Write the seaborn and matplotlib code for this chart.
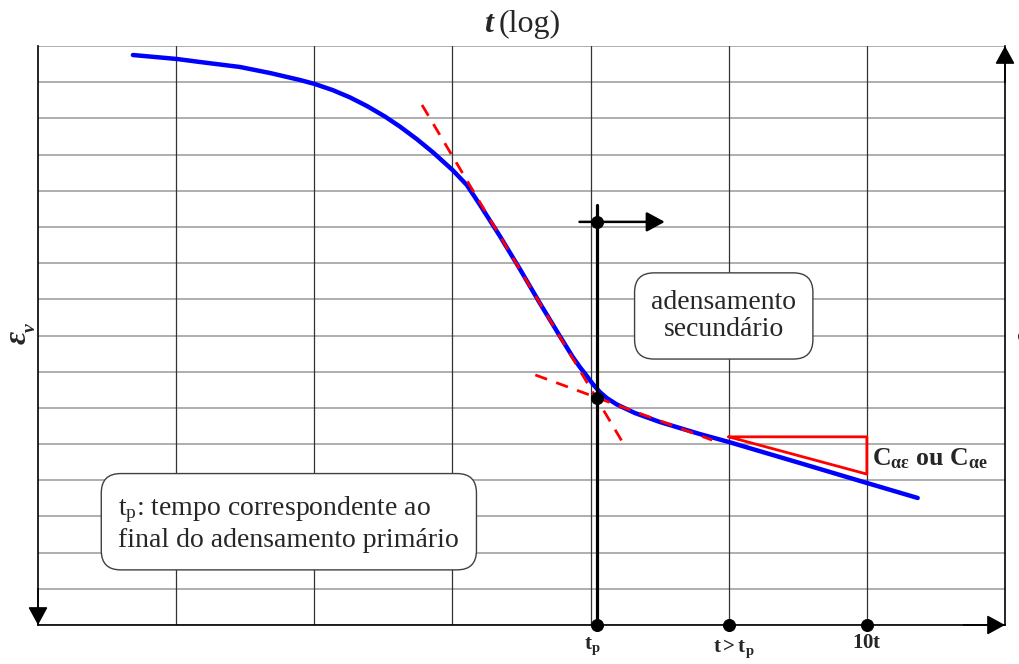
import numpy as np
import pandas as pd
import matplotlib
matplotlib.use("Agg")
import matplotlib.pyplot as plt
import seaborn as sns

# ---- data (x: log t in grid decades, y: epsilon_v in grid rows, downward) ----
curve_logt = [0.687, 1.006, 1.172, 1.462, 1.679, 1.896, 2.004, 2.135, 2.258,
              2.381, 2.511, 2.619, 2.742, 2.858, 3.003, 3.104, 3.198, 3.343,
              3.488, 3.632, 3.777, 3.871, 3.922, 3.973, 4.016, 4.067, 4.117,
              4.190, 4.320, 4.501, 4.790, 5.000, 5.514, 6.000, 6.368]
curve_eps = [0.249, 0.359, 0.442, 0.580, 0.746, 0.939, 1.050, 1.221, 1.420,
             1.658, 1.948, 2.224, 2.573, 2.935, 3.435, 3.841, 4.382, 5.250,
             6.162, 7.101, 8.013, 8.594, 8.870, 9.119, 9.340, 9.561, 9.727,
             9.906, 10.141, 10.390, 10.722, 10.942, 11.523, 12.075, 12.490]

steep_x = [2.78, 4.23]
steep_y = [1.63, 10.94]
flat_x = [3.60, 4.88]
flat_y = [9.09, 10.89]

tri_x = [5.0, 6.0, 6.0, 5.0]
tri_y = [10.80, 10.80, 11.83, 10.80]

tp = 4.045
tp_arrow_y = 4.86
tp_curve_y = 9.73
tick_pos = [tp, 5.0, 6.0]
tick_labels = [r"$\mathbf{t_p}$", r"$\mathbf{t > t_p}$", r"$\mathbf{10t}$"]

# ---- style ----
sns.set_style("white")
plt.rcParams['font.family'] = ['Liberation Serif', 'DejaVu Serif']
plt.rcParams['mathtext.fontset'] = 'custom'
plt.rcParams['mathtext.rm'] = 'Liberation Serif'
plt.rcParams['mathtext.it'] = 'Liberation Serif:italic'
plt.rcParams['mathtext.bf'] = 'Liberation Serif:bold'

W, H = 1019, 664
fig = plt.figure(figsize=(W / 100, H / 100), dpi=100)
ax = fig.add_axes([38 / W, 39 / H, 967 / W, 579 / H])
ax.set_xlim(0, 7)
ax.set_ylim(16, 0)
ax.set_xticks([])
ax.set_yticks([])

for yv in range(0, 17):
    ax.axhline(yv, color='#a8a8a8', lw=1.3, zorder=0)
for xv in range(1, 7):
    ax.axvline(xv, color='#333333', lw=0.9, zorder=0)

ax.spines['top'].set_visible(False)
for s in ['left', 'right', 'bottom']:
    ax.spines[s].set_color('black')
    ax.spines[s].set_linewidth(1.2)

# main curve
sns.lineplot(x=curve_logt, y=curve_eps, ax=ax, color='#0000ff', lw=3.2,
             sort=False, estimator=None, zorder=4)
ax.lines[-1].set_solid_capstyle('round')
ax.lines[-1].set_solid_joinstyle('round')

# tangents (drawn above the curve)
sns.lineplot(x=steep_x, y=steep_y, ax=ax, color='red', lw=2,
             sort=False, estimator=None, zorder=5)
ax.lines[-1].set_dashes((4.5, 3.5))
sns.lineplot(x=flat_x, y=flat_y, ax=ax, color='red', lw=2,
             sort=False, estimator=None, zorder=5)
ax.lines[-1].set_dashes((4.5, 3.5))

# red triangle
sns.lineplot(x=tri_x, y=tri_y, ax=ax, color='red', lw=2, sort=False,
             estimator=None, zorder=5)

# tp vertical line and arrow
ax.plot([tp, tp], [4.39, 16], color='black', lw=2.3, zorder=6, clip_on=False)
ax.annotate('', xy=(4.537, tp_arrow_y), xytext=(3.92, tp_arrow_y),
            arrowprops=dict(arrowstyle='-|>,head_length=0.55,head_width=0.3',
                            mutation_scale=20, color='black', lw=1.8,
                            shrinkA=0, shrinkB=0), zorder=6)

# dots
sns.scatterplot(x=[tp, tp] + tick_pos, y=[tp_arrow_y, tp_curve_y, 16, 16, 16],
                ax=ax, color='black', s=75, zorder=7, clip_on=False,
                edgecolor='black', legend=False)

# axis arrows
arrow_kw = dict(arrowstyle='-|>,head_length=0.55,head_width=0.3',
                mutation_scale=20, color='black', lw=1.2, shrinkA=0, shrinkB=0)
ax.annotate('', xy=(7, 16), xytext=(6.7, 16), arrowprops=arrow_kw,
            annotation_clip=False)
ax.annotate('', xy=(7, 0), xytext=(7, 1.0), arrowprops=arrow_kw,
            annotation_clip=False)
ax.annotate('', xy=(0, 16), xytext=(0, 15.0), arrowprops=arrow_kw,
            annotation_clip=False)

# tick labels
tick_y = [16.6, 16.65, 16.5]
for xp, lab, ty in zip(tick_pos, tick_labels, tick_y):
    ax.text(xp - (0.03 if xp == tp else -0.04 if xp == 5.0 else 0.0), ty, lab,
            ha='center', va='center', fontsize=15, clip_on=False)

# text boxes
ax.text(4.964, 7.46, "adensamento\nsecundário", ha='center', va='center',
        fontsize=20, linespacing=1.15, zorder=8,
        bbox=dict(boxstyle='round,pad=0.6,rounding_size=0.7',
                  fc='white', ec='#404040', lw=1))
ax.text(1.816, 13.2,
        r"$\mathrm{t_p}$: tempo correspondente ao" + "\nfinal do adensamento primário",
        ha='center', va='center', multialignment='left', fontsize=20,
        linespacing=1.12, zorder=8,
        bbox=dict(boxstyle='round,pad=0.62,rounding_size=0.7',
                  fc='white', ec='#404040', lw=1))

ax.text(6.04, 11.4, r"$\mathbf{C_{\alpha\varepsilon}}$ ou $\mathbf{C_{\alpha e}}$",
        ha='left', va='center', fontsize=18.5, fontweight='bold', zorder=8)

# axis titles
fig.text(493 / W, 1 - 32 / H, "t", ha='right', va='baseline', fontsize=23,
         fontweight='bold', fontstyle='italic')
fig.text(499 / W, 1 - 32 / H, "(log)", ha='left', va='baseline', fontsize=23)
fig.text(18 / W, 1 - 337 / H, "ε", ha='center', va='center', fontsize=23,
         fontweight='bold', fontstyle='italic', rotation=90)
fig.text(30 / W, 1 - 328 / H, "v", ha='center', va='center', fontsize=14,
         fontweight='bold', fontstyle='italic', rotation=90)
fig.text(1026 / W, 1 - 337 / H, "e", ha='center', va='center', fontsize=22,
         fontweight='bold', fontstyle='italic', rotation=90)

fig.savefig("out.png", dpi=100)
